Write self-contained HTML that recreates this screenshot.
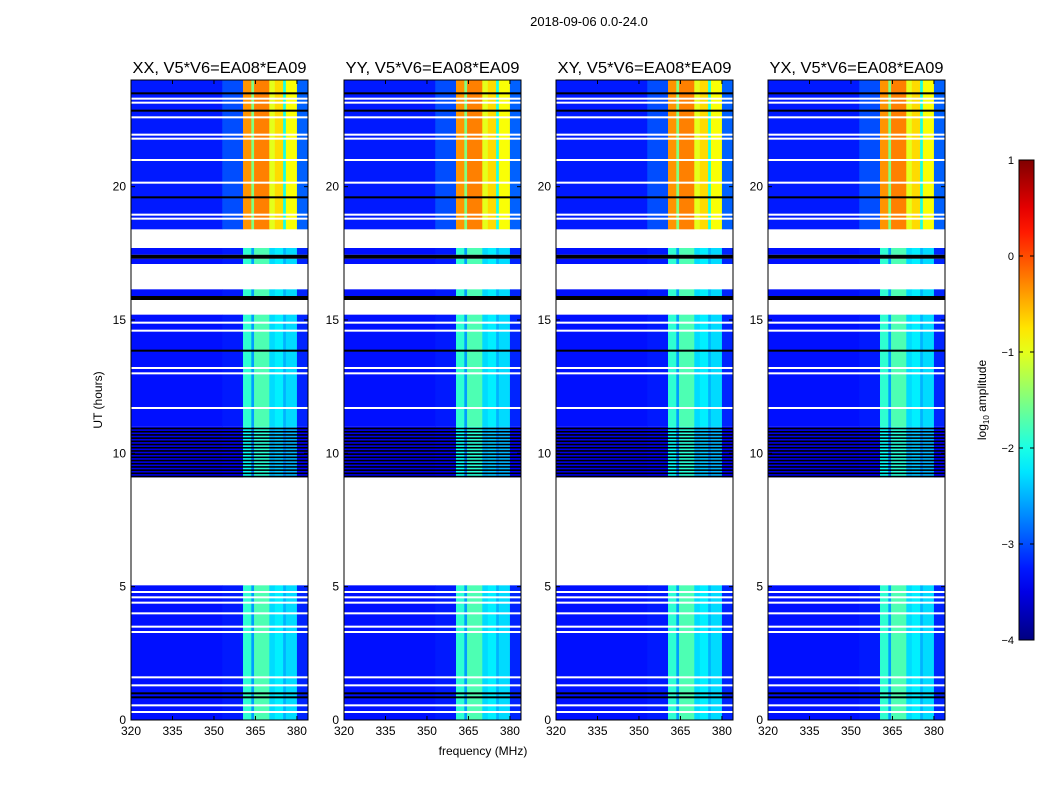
<!DOCTYPE html>
<html><head><meta charset="utf-8"><style>
body{margin:0;background:#fff;}
svg{display:block;font-family:"Liberation Sans",sans-serif;}
</style></head><body>
<svg id="fig" width="1050" height="800" viewBox="0 0 1050 800">
<text x="589" y="26" font-size="13" text-anchor="middle">2018-09-06 0.0-24.0</text>
<text x="483" y="755" font-size="12" text-anchor="middle">frequency (MHz)</text>
<text transform="translate(102,400) rotate(-90)" font-size="12" text-anchor="middle">UT (hours)</text>
<g id="panels"></g>
<g id="cbar"></g>
</svg>
<script>
// ---- data ----
const panelTitles = ["XX, V5*V6=EA08*EA09","YY, V5*V6=EA08*EA09","XY, V5*V6=EA08*EA09","YX, V5*V6=EA08*EA09"];
const bandEdges = [320,353,360.5,363.5,364.5,370,372,375,376,380,384];
const levelsTop = [-3.25,-3.0,-0.35,-1.5,-0.25,-1.0,-0.7,-2.0,-0.9,-2.9];
const levelsBottom = [-3.3,-3.25,-1.9,-2.6,-1.75,-2.3,-2.2,-2.5,-2.3,-3.2];
const segStart = [0,5.05,9.1,11,15.2,15.75,15.9,16.15,17.1,17.3,17.45,17.7,18.4];
const segEnd   = [5.05,9.1,11,15.2,15.75,15.9,16.15,17.1,17.3,17.45,17.7,18.4,24];
const segType  = ["bot","white","dark","bot","white","black","bot","white","bot","black","bot","white","top"];
const whiteLines = [0.3,0.55,1.3,1.6,3.3,3.5,4.0,4.4,4.6,4.8,11.7,13.0,13.2,14.6,14.9,18.8,18.95,20.15,21.0,21.8,21.95,22.6,23.15,23.3];
const blackLines = [0.85,1.0,13.85,19.6,22.85,23.5];
const xTicks = [320,335,350,365,380];
const yTicks = [0,5,10,15,20];
const cbTicks = [1,0,-1,-2,-3,-4];

// ---- layout ----
const panelX = [131,344,556,768], PW = 177, PT = 80, PB = 720;
const fMin = 320, fMax = 384, tMin = 0, tMax = 24;
const NS = "http://www.w3.org/2000/svg";
function jet(v){
  let t = (v+4)/5; t=Math.max(0,Math.min(1,t));
  const f=x=>Math.max(0,Math.min(1,x));
  const r=f(Math.min(4*t-1.5,-4*t+4.5)), g=f(Math.min(4*t-0.5,-4*t+3.5)), b=f(Math.min(4*t+0.5,-4*t+2.5));
  return `rgb(${Math.round(r*255)},${Math.round(g*255)},${Math.round(b*255)})`;
}
function mk(tag,attrs,parent){const e=document.createElementNS(NS,tag);for(const k in attrs)e.setAttribute(k,attrs[k]);parent.appendChild(e);return e;}
const panels=document.getElementById('panels');
panelX.forEach((x0,pi)=>{
  const g=mk('g',{},panels);
  
  
  const xs=f=>x0+(f-fMin)/(fMax-fMin)*PW;
  const ys=h=>PB-(h-tMin)/(tMax-tMin)*(PB-PT);
  segType.forEach((ty,si)=>{
    const y1=ys(segEnd[si]), y2=ys(segStart[si]);
    if(ty==='white'){return;}
    if(ty==='black'){const r=mk('rect',{x:x0,y:y1,width:PW,height:y2-y1,fill:'#000'},g);return;}
    const lv = ty==='top'?levelsTop:levelsBottom;
    for(let b=0;b<lv.length;b++){
      const r=mk('rect',{x:xs(bandEdges[b]),y:y1,width:xs(bandEdges[b+1])-xs(bandEdges[b])+0.3,height:y2-y1,fill:jet(lv[b]+(ty==='dark'?-0.2:0))},g);
      
      
    }
    if(ty==='dark'){
      for(let h=segStart[si];h<segEnd[si];h+=0.12){
        const r=mk('rect',{x:x0,y:ys(h+0.06),width:PW,height:ys(h)-ys(h+0.06),fill:'#000'},g);
        
        
      }
    }
  });
  whiteLines.forEach(h=>{const r=mk('rect',{x:x0,y:ys(h)-1,width:PW,height:2,fill:'#fff'},g);});
  blackLines.forEach(h=>{const r=mk('rect',{x:x0,y:ys(h)-1,width:PW,height:2,fill:'#000'},g);});
  const fr=mk('rect',{x:x0,y:PT,width:PW,height:PB-PT,fill:'none',stroke:'#000','stroke-width':1},g);
  
  const t=mk('text',{x:x0+PW/2,y:PT-7,'font-size':16,'text-anchor':'middle',textLength:174,lengthAdjust:'spacingAndGlyphs'},g);t.textContent=panelTitles[pi];
  
  xTicks.forEach(f=>{
    mk('line',{x1:xs(f),x2:xs(f),y1:PB,y2:PB-4,stroke:'#000'},g);
    mk('line',{x1:xs(f),x2:xs(f),y1:PT,y2:PT+4,stroke:'#000'},g);
    const l=mk('text',{x:xs(f),y:PB+15,'font-size':12,'text-anchor':'middle'},g);l.textContent=f;
    
  });
  yTicks.forEach(h=>{
    mk('line',{x1:x0,x2:x0+4,y1:ys(h),y2:ys(h),stroke:'#000'},g);
    mk('line',{x1:x0+PW,x2:x0+PW-4,y1:ys(h),y2:ys(h),stroke:'#000'},g);
    const l=mk('text',{x:x0-5,y:ys(h)+4,'font-size':12,'text-anchor':'end'},g);l.textContent=h;
    
  });
});
const cb=document.getElementById('cbar');

const cx=1019,cw=15,cT=160,cB=640;
const defs=mk('defs',{},cb);const gr=mk('linearGradient',{id:'jg',x1:0,y1:1,x2:0,y2:0},defs);
for(let i=0;i<=20;i++){mk('stop',{offset:i/20,'stop-color':jet(-4+5*i/20)},gr);}
mk('rect',{x:cx,y:cT,width:cw,height:cB-cT,fill:'url(#jg)',stroke:'#000'},cb);
cbTicks.forEach(v=>{
  const y=cB-(v+4)/5*(cB-cT);
  mk('line',{x1:cx,x2:cx+4,y1:y,y2:y,stroke:'#000'},cb);
  mk('line',{x1:cx+cw,x2:cx+cw-4,y1:y,y2:y,stroke:'#000'},cb);
  const l=mk('text',{x:cx-5,y:y+4,'font-size':11,'text-anchor':'end'},cb);l.textContent=v<0?'\u2212'+(-v):v;
  
});
const cl=mk('text',{transform:'translate(986,400) rotate(-90)','font-size':12,'text-anchor':'middle'},cb);
cl.innerHTML='log<tspan font-size="8" dy="3">10</tspan><tspan dy="-3"> amplitude</tspan>';

</script>
</body></html>
